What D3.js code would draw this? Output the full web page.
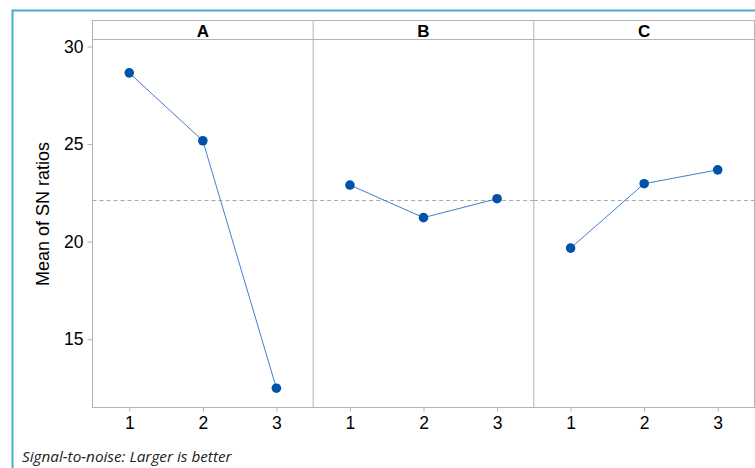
<!DOCTYPE html>
<html><head><meta charset="utf-8">
<script src="https://cdn.jsdelivr.net/npm/d3@7"></script>
<style>body{margin:0;background:#fff}svg{display:block}</style>
</head><body>
<svg id="c" width="755" height="468"></svg>
<script>
const factors = ["A", "B", "C"];
const levels = [1, 2, 3];
const valuesA = [28.65, 25.17, 12.49];
const valuesB = [22.90, 21.23, 22.20];
const valuesC = [19.67, 22.97, 23.68];
const yTicks = [15, 20, 25, 30];
const yLabel = "Mean of SN ratios";
const footnote = "Signal-to-noise: Larger is better";

(function () {
const series = [valuesA, valuesB, valuesC];
const allVals = [].concat(...series);
const grandMean = d3.mean(allVals);

const svg = d3.select("#c");
const W = 755, H = 468;
const mLeft = 92.5, mRight = 754.5, mTop = 20.5, headerH = 19, mBottom = 407.5;
const plotTop = mTop + headerH;
const panelW = (mRight - mLeft) / factors.length;

svg.append("path").attr("d", `M12.5,${H} L12.5,10.5 L${W},10.5`)
  .attr("fill", "none").attr("stroke", "#4aacc5").attr("stroke-width", 2);

const y = d3.scaleLinear().domain([11.5, 30.36]).range([mBottom, plotTop]);
const gray = "#b4b4b4";

const yAxis = d3.axisLeft(y).tickValues(yTicks).tickSize(5).tickPadding(4);
const gy = svg.append("g").attr("transform", `translate(${mLeft},0)`).call(yAxis);
gy.select(".domain").remove();
gy.selectAll(".tick line").attr("stroke", gray);
gy.selectAll(".tick text").attr("font-family", "Liberation Sans, Arial, sans-serif")
  .attr("font-size", 17.5).attr("fill", "#000");

factors.forEach((f, i) => {
  const x0 = mLeft + i * panelW;
  const x = d3.scaleLinear().domain([0.5, 3.5]).range([x0, x0 + panelW]);
  const g = svg.append("g");
  g.append("line").attr("x1", x0).attr("x2", x0 + panelW)
    .attr("y1", y(grandMean)).attr("y2", y(grandMean))
    .attr("stroke", "#a8a8a8").attr("stroke-dasharray", "4,3").attr("stroke-width", 1);
  const xAxis = d3.axisBottom(x).tickValues(levels).tickSize(4).tickPadding(5).tickFormat(d3.format("d"));
  const gx = svg.append("g").attr("transform", `translate(0,${mBottom})`).call(xAxis);
  gx.select(".domain").remove();
  gx.selectAll(".tick line").attr("stroke", gray);
  gx.selectAll(".tick text").attr("font-family", "Liberation Sans, Arial, sans-serif")
    .attr("font-size", 17.5).attr("fill", "#000");
  const vals = series[i];
  const line = d3.line().x((d, j) => x(levels[j])).y(d => y(d));
  g.append("path").attr("d", line(vals)).attr("fill", "none")
    .attr("stroke", "#3f7fcf").attr("stroke-width", 1);
  g.selectAll("circle").data(vals).join("circle")
    .attr("cx", (d, j) => x(levels[j])).attr("cy", d => y(d)).attr("r", 4.8)
    .attr("fill", "#0053a6");
  svg.append("text").attr("x", x0 + panelW / 2).attr("y", mTop + 16)
    .attr("text-anchor", "middle").attr("font-family", "Liberation Sans, Arial, sans-serif")
    .attr("font-weight", "bold").attr("font-size", 17).attr("fill", "#000").text(f);
  if (i > 0) {
    svg.append("line").attr("x1", x0).attr("x2", x0).attr("y1", mTop).attr("y2", mBottom)
      .attr("stroke", gray).attr("stroke-width", 1);
  }
});

svg.append("rect").attr("x", mLeft).attr("y", mTop).attr("width", mRight - mLeft).attr("height", mBottom - mTop)
  .attr("fill", "none").attr("stroke", gray).attr("stroke-width", 1);
svg.append("line").attr("x1", mLeft).attr("x2", mRight).attr("y1", plotTop).attr("y2", plotTop)
  .attr("stroke", gray).attr("stroke-width", 1);

svg.append("text").attr("transform", `translate(49,${(mTop + mBottom) / 2}) rotate(-90)`)
  .attr("text-anchor", "middle").attr("font-family", "Liberation Sans, Arial, sans-serif")
  .attr("font-size", 18).attr("fill", "#000").text(yLabel);

svg.append("text").attr("x", 22).attr("y", 462).attr("font-family", "Open Sans, Noto Sans, sans-serif")
  .attr("font-style", "italic").attr("font-size", 15.3).attr("fill", "#222").text(footnote);
})();
</script>
</body></html>
